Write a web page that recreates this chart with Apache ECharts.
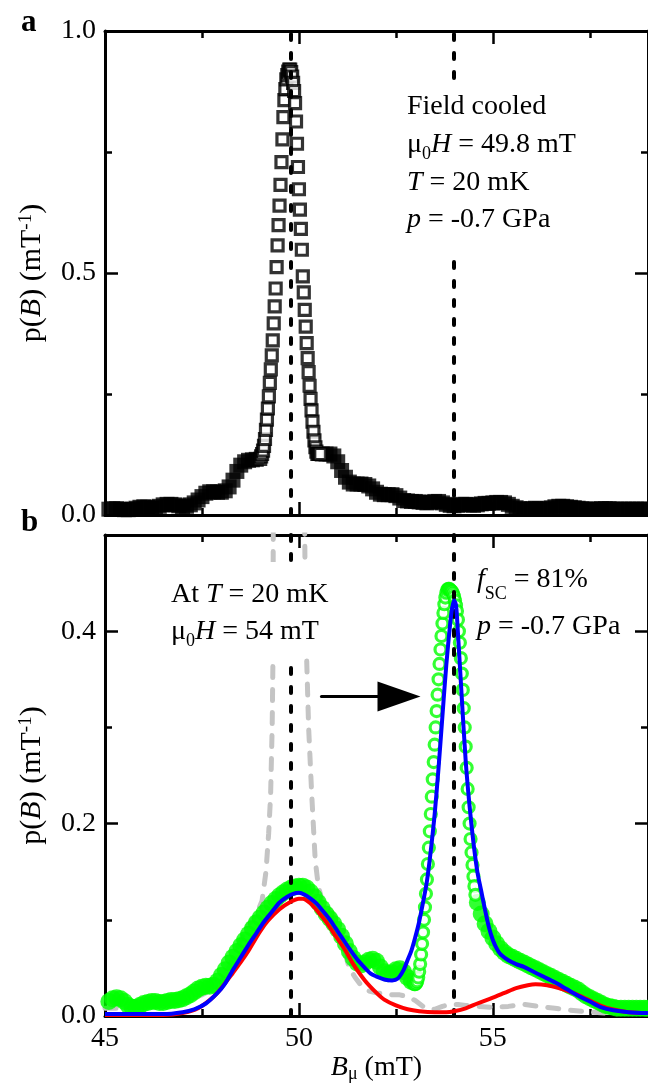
<!DOCTYPE html>
<html><head><meta charset="utf-8">
<script src="https://cdn.jsdelivr.net/npm/echarts@6/dist/echarts.min.js"></script>
<style>html,body{margin:0;padding:0;background:#fff}#c{width:648px;height:1088px}</style>
</head><body><div id="c"></div>
<script>
const SERIF = 'Liberation Serif';

// ---------- axis ranges / ticks ----------
const X_RANGE = [45, 59];
const X_MAJOR = 5, X_MINOR = 2.5;
const YA_RANGE = [0, 1.0], YA_MAJOR = 0.5, YA_MINOR = 0.25;
const YB_RANGE = [0, 0.5], YB_MAJOR = 0.2, YB_MINOR = 0.1;
const FIELD_LINES = [49.8, 54];          // black dashed verticals (mT)
const ARROW = [[50.58, 0.332], [52.58, 0.332]];

// ---------- panel a: field cooled p(B) ----------
const aWing = [
[45.1,0.012],[45.2,0.013],[45.3,0.013],[45.4,0.012],[45.5,0.011],[45.6,0.011],[45.7,0.012],[45.8,0.014],[45.9,0.016],
[46.0,0.017],[46.1,0.016],[46.2,0.014],[46.3,0.015],[46.4,0.018],[46.5,0.021],[46.6,0.022],[46.7,0.022],[46.8,0.021],[46.9,0.019],
[47.0,0.017],[47.1,0.018],[47.2,0.021],[47.3,0.025],[47.4,0.031],[47.5,0.038],[47.6,0.045],[47.7,0.048],[47.8,0.048],[47.9,0.047],
[48.0,0.047],[48.1,0.050],[48.2,0.058],[48.3,0.072],[48.4,0.090],[48.5,0.103],[48.6,0.110],[48.7,0.113],[48.8,0.114],[48.9,0.115],
[50.6,0.126],[50.7,0.126],[50.8,0.126],[50.9,0.122],[51.0,0.110],[51.1,0.092],[51.2,0.078],[51.3,0.068],[51.4,0.064],[51.5,0.064],
[51.6,0.064],[51.7,0.063],[51.8,0.060],[51.9,0.054],[52.0,0.047],[52.1,0.043],[52.2,0.042],[52.3,0.042],[52.4,0.042],[52.5,0.040],
[52.6,0.035],[52.7,0.030],[52.8,0.029],[52.9,0.028],[53.0,0.028],[53.1,0.027],[53.2,0.026],[53.3,0.025],[53.4,0.026],[53.5,0.028],
[53.6,0.028],[53.7,0.025],[53.8,0.022],[53.9,0.020],[54.0,0.019],[54.1,0.020],[54.2,0.022],[54.3,0.022],[54.4,0.021],[54.5,0.020],
[54.6,0.021],[54.7,0.023],[54.8,0.024],[54.9,0.024],[55.0,0.025],[55.1,0.026],[55.2,0.026],[55.3,0.025],[55.4,0.022],[55.5,0.018],
[55.6,0.015],[55.7,0.013],[55.8,0.012],[55.9,0.012],[56.0,0.013],[56.1,0.014],[56.2,0.013],[56.3,0.012],[56.4,0.013],[56.5,0.015],
[56.6,0.017],[56.7,0.018],[56.8,0.018],[56.9,0.017],[57.0,0.016],[57.1,0.015],[57.2,0.014],[57.3,0.013],[57.4,0.012],[57.5,0.012],
[57.6,0.012],[57.7,0.012],[57.8,0.013],[57.9,0.013],[58.0,0.013],[58.1,0.012],[58.2,0.012],[58.3,0.012],[58.4,0.012],[58.5,0.012],
[58.6,0.012],[58.7,0.012],[58.8,0.012],[58.9,0.012],[59.0,0.012]
];
const aPeak = [
[49.000,0.116],[49.025,0.121],[49.050,0.126],[49.075,0.133],[49.100,0.143],[49.125,0.157],[49.150,0.176],[49.175,0.197],
[49.200,0.220],[49.225,0.245],[49.250,0.273],[49.275,0.301],[49.300,0.330],[49.325,0.361],[49.350,0.396],[49.375,0.431],
[49.400,0.468],[49.425,0.512],[49.450,0.557],[49.475,0.599],[49.500,0.639],[49.525,0.682],[49.550,0.729],[49.575,0.776],
[49.600,0.822],[49.625,0.857],[49.650,0.880],[49.675,0.900],[49.700,0.909],[49.725,0.916],[49.750,0.920],[49.775,0.920],
[49.800,0.915],[49.825,0.906],[49.850,0.893],[49.875,0.876],[49.900,0.851],[49.925,0.813],[49.950,0.767],[49.975,0.719],
[50.000,0.673],[50.025,0.631],[50.050,0.591],[50.075,0.548],[50.100,0.493],[50.125,0.460],[50.150,0.424],[50.175,0.389],
[50.200,0.355],[50.225,0.324],[50.250,0.295],[50.275,0.267],[50.300,0.240],[50.325,0.216],[50.350,0.193],[50.375,0.172],
[50.400,0.154],[50.425,0.140],[50.450,0.131],[50.475,0.126],[50.500,0.126],[50.525,0.126],[50.550,0.126]
];

// ---------- panel b ----------
const gWing = [
[45.1,0.015],[45.2,0.018],[45.3,0.019],[45.4,0.018],[45.5,0.015],[45.6,0.011],[45.7,0.009],[45.8,0.009],[45.9,0.011],
[46.0,0.013],[46.1,0.014],[46.2,0.015],[46.3,0.015],[46.4,0.014],[46.5,0.014],[46.6,0.015],[46.7,0.016],[46.8,0.016],[46.9,0.017],
[47.0,0.018],[47.1,0.020],[47.2,0.022],[47.3,0.025],[47.4,0.028],[47.5,0.030],[47.6,0.031],[47.7,0.031],[47.8,0.032],[47.9,0.036],
[48.0,0.042],[48.1,0.048],[48.2,0.055],[48.3,0.061],[48.4,0.067],[48.5,0.073],[48.6,0.079],[48.7,0.085],[48.8,0.091],[48.9,0.097],
[49.0,0.102],[49.1,0.107],[49.2,0.112],[49.3,0.117],[49.4,0.121],[49.5,0.125],[49.6,0.128],[49.7,0.131],[49.8,0.133],[49.9,0.134],
[50.0,0.135],[50.1,0.135],[50.2,0.133],[50.3,0.129],[50.4,0.124],[50.5,0.118],[50.6,0.112],[50.7,0.106],[50.8,0.101],[50.9,0.096],
[51.0,0.090],[51.1,0.083],[51.2,0.075],[51.3,0.067],[51.4,0.060],[51.5,0.055],[51.6,0.053],[51.7,0.055],[51.8,0.058],[51.9,0.059],
[52.0,0.057],[52.1,0.051],[52.2,0.046],[52.3,0.044],[52.4,0.045],[52.5,0.048],[52.6,0.049],[52.7,0.046],[52.8,0.040],[52.9,0.036],
[54.6,0.118],[54.7,0.106],[54.8,0.096],[54.9,0.088],[55.0,0.081],[55.1,0.075],[55.2,0.070],[55.3,0.066],[55.4,0.063],[55.5,0.061],
[55.6,0.059],[55.7,0.057],[55.8,0.055],[55.9,0.053],[56.0,0.051],[56.1,0.049],[56.2,0.047],[56.3,0.045],[56.4,0.043],[56.5,0.041],
[56.6,0.039],[56.7,0.037],[56.8,0.035],[56.9,0.033],[57.0,0.031],[57.1,0.029],[57.2,0.027],[57.3,0.024],[57.4,0.021],[57.5,0.019],
[57.6,0.017],[57.7,0.015],[57.8,0.013],[57.9,0.011],[58.0,0.010],[58.1,0.009],[58.2,0.008],[58.3,0.008],[58.4,0.008],[58.5,0.008],
[58.6,0.008],[58.7,0.008],[58.8,0.008],[58.9,0.008],[59.0,0.008]
];
const gPeak = [
[52.950,0.034],[52.975,0.033],[53.000,0.033],[53.025,0.034],[53.050,0.036],[53.075,0.040],[53.100,0.046],[53.125,0.054],
[53.150,0.064],[53.175,0.075],[53.200,0.087],[53.225,0.100],[53.250,0.113],[53.275,0.127],[53.300,0.142],[53.325,0.158],
[53.350,0.175],[53.375,0.192],[53.400,0.210],[53.425,0.228],[53.450,0.246],[53.475,0.264],[53.500,0.282],[53.525,0.300],
[53.550,0.317],[53.575,0.334],[53.600,0.350],[53.625,0.366],[53.650,0.381],[53.675,0.395],[53.700,0.408],[53.725,0.419],
[53.750,0.428],[53.775,0.435],[53.800,0.440],[53.825,0.443],[53.850,0.444],[53.875,0.444],[53.900,0.443],[53.925,0.442],
[53.950,0.441],[53.975,0.439],[54.000,0.436],[54.025,0.432],[54.050,0.427],[54.075,0.421],[54.100,0.412],[54.125,0.400],
[54.150,0.388],[54.175,0.372],[54.200,0.356],[54.225,0.339],[54.250,0.320],[54.275,0.300],[54.300,0.280],[54.325,0.258],
[54.350,0.236],[54.375,0.217],[54.400,0.200],[54.425,0.184],[54.450,0.170],[54.475,0.157],[54.500,0.145],[54.525,0.135],
[54.550,0.126]
];
const blueFit = [
[45.0,0.002],[45.5,0.002],[46.0,0.002],[46.5,0.002],[47.0,0.004],[47.3,0.007],[47.6,0.013],[47.9,0.024],[48.1,0.034],[48.3,0.048],
[48.5,0.061],[48.7,0.074],[48.9,0.086],[49.1,0.098],[49.3,0.108],[49.5,0.118],[49.7,0.124],[49.85,0.127],[50.0,0.128],[50.15,0.126],
[50.3,0.122],[50.45,0.117],[50.6,0.110],[50.8,0.100],[50.95,0.091],[51.1,0.082],[51.3,0.070],[51.5,0.059],[51.7,0.050],[51.85,0.044],
[52.0,0.041],[52.2,0.038],[52.4,0.037],[52.55,0.039],[52.7,0.048],[52.8,0.058],[52.9,0.068],[53.0,0.082],[53.1,0.098],[53.2,0.118],
[53.3,0.140],[53.4,0.172],[53.5,0.210],[53.6,0.258],[53.7,0.312],[53.8,0.365],[53.9,0.408],[53.95,0.424],[54.0,0.432],[54.05,0.427],
[54.1,0.398],[54.2,0.330],[54.3,0.265],[54.4,0.218],[54.5,0.180],[54.6,0.150],[54.7,0.130],[54.8,0.110],[54.9,0.092],[55.0,0.079],
[55.1,0.070],[55.2,0.064],[55.4,0.058],[55.6,0.054],[55.8,0.051],[56.0,0.047],[56.3,0.041],[56.6,0.035],[56.9,0.028],[57.2,0.021],
[57.5,0.015],[57.8,0.009],[58.1,0.006],[58.5,0.004],[59.0,0.003]
];
const redFit = [
[45.0,0.001],[46.0,0.001],[46.5,0.001],[47.0,0.003],[47.4,0.008],[47.8,0.020],[48.0,0.029],[48.3,0.045],[48.5,0.056],[48.7,0.068],
[49.0,0.088],[49.2,0.099],[49.5,0.111],[49.8,0.119],[50.0,0.122],[50.1,0.122],[50.3,0.117],[50.5,0.108],[50.7,0.098],[50.9,0.086],
[51.2,0.068],[51.4,0.054],[51.7,0.037],[52.0,0.024],[52.2,0.017],[52.5,0.011],[52.8,0.007],[53.1,0.005],[53.5,0.004],[53.8,0.004],
[54.0,0.005],[54.3,0.008],[54.6,0.013],[55.0,0.019],[55.3,0.024],[55.6,0.029],[55.9,0.032],[56.1,0.033],[56.4,0.032],[56.7,0.029],
[57.0,0.025],[57.3,0.020],[57.6,0.014],[57.9,0.009],[58.2,0.006],[58.5,0.004],[59.0,0.003]
];
const grayRef = [
[45.0,0.008],[45.5,0.008],[46.0,0.009],[46.5,0.013],[47.0,0.016],[47.5,0.022],[47.9,0.030],[48.1,0.042],[48.3,0.060],[48.5,0.079],
[48.7,0.095],[48.9,0.105],[49.05,0.120],[49.15,0.150],[49.22,0.190],[49.27,0.230],[49.31,0.300],[49.33,0.370],[49.335,0.450],[49.34,0.550],
[49.8,0.850],[50.14,0.550],[50.16,0.450],[50.2,0.370],[50.25,0.300],[50.33,0.230],[50.42,0.162],[50.5,0.135],[50.6,0.120],[50.75,0.114],
[50.9,0.105],[51.0,0.090],[51.15,0.070],[51.3,0.050],[51.45,0.040],[51.6,0.032],[51.8,0.026],[52.0,0.024],[52.2,0.023],[52.4,0.022],
[52.6,0.022],[52.8,0.020],[53.0,0.016],[53.2,0.010],[53.35,0.007],[53.5,0.007],[53.7,0.010],[53.9,0.012],[54.1,0.012],[54.3,0.011],
[54.6,0.010],[55.0,0.009],[55.4,0.010],[55.8,0.012],[56.2,0.010],[56.6,0.008],[57.0,0.006],[57.5,0.004],[58.0,0.003],[59.0,0.003]
];

// ---------- text ----------
function rich(lh, fs) {
  fs = fs || 28;
  return {
    n:   {fontFamily: SERIF, fontSize: fs, lineHeight: lh, color: '#000'},
    i:   {fontFamily: SERIF, fontSize: fs, lineHeight: lh, color: '#000', fontStyle: 'italic'},
    sub: {fontFamily: SERIF, fontSize: Math.round(fs * 0.63), lineHeight: 10, color: '#000', verticalAlign: 'bottom'},
    sup: {fontFamily: SERIF, fontSize: Math.round(fs * 0.63), lineHeight: 17, color: '#000', verticalAlign: 'top'}
  };
}
const TXT_A = '{n|Field cooled}\n{n|μ}{sub|0}{i|H}{n| = 49.8 mT}\n{i|T}{n| = 20 mK}\n{i|p}{n| = -0.7 GPa}';
const TXT_B1 = '{n|At }{i|T}{n| = 20 mK}\n{n|μ}{sub|0}{i|H}{n| = 54 mT}';
const TXT_B2 = '{i|f}{sub|SC}{n| = 81%}\n{i|p}{n| = -0.7 GPa}';
const Y_NAME = '{n|p(}{i|B}{n|) (mT}{sup|-1}{n|)}';
const X_NAME = '{i|B}{sub|μ}{n| (mT)}';

const LINE = {color: '#000', width: 3};
const TICK = {color: '#000', width: 2.5};
const TICKFONT = {fontFamily: SERIF, fontSize: 28, color: '#000'};

function xAxesFor(g, labels) {
  const common = {type: 'value', gridIndex: g, min: X_RANGE[0], max: X_RANGE[1], splitLine: {show: false}};
  const major = (pos) => Object.assign({}, common, {
    position: pos, interval: X_MAJOR,
    axisLine: {show: true, onZero: false, lineStyle: LINE},
    axisTick: {show: true, inside: true, length: 13, lineStyle: TICK},
    axisLabel: (labels && pos === 'bottom') ? Object.assign({show: true, margin: 9, showMaxLabel: false}, TICKFONT) : {show: false}
  });
  const minor = (pos) => Object.assign({}, common, {
    position: pos, interval: X_MINOR,
    axisLine: {show: false, onZero: false},
    axisTick: {show: true, inside: true, length: 7, lineStyle: TICK},
    axisLabel: {show: false}
  });
  const b = major('bottom');
  if (labels) {
    Object.assign(b, {name: X_NAME, nameLocation: 'middle', nameGap: 36,
      nameTextStyle: {rich: rich(30, 28)}});
  }
  return [b, minor('bottom'), major('top'), minor('top')];
}
function yAxesFor(g, range, maj, mnr, showMax) {
  const common = {type: 'value', gridIndex: g, min: range[0], max: range[1], splitLine: {show: false}};
  const major = (pos) => Object.assign({}, common, {
    position: pos, interval: maj,
    axisLine: {show: true, onZero: false, lineStyle: LINE},
    axisTick: {show: true, inside: true, length: 13, lineStyle: TICK},
    axisLabel: pos === 'left' ? Object.assign({show: true, margin: 9, showMaxLabel: showMax, formatter: v => v.toFixed(1)}, TICKFONT) : {show: false}
  });
  const minor = (pos) => Object.assign({}, common, {
    position: pos, interval: mnr,
    axisLine: {show: false, onZero: false},
    axisTick: {show: true, inside: true, length: 7, lineStyle: TICK},
    axisLabel: {show: false}
  });
  const l = major('left');
  Object.assign(l, {name: Y_NAME, nameLocation: 'middle', nameGap: 58, nameRotate: 90,
    nameTextStyle: {rich: rich(30, 30)}});
  return [l, minor('left'), major('right'), minor('right')];
}

const dashed = {color: '#000', width: 4, type: [6, 13], cap: 'round'};

const option = {
  animation: false,
  backgroundColor: '#fff',
  grid: [
    {left: 105, top: 31, width: 547, height: 484},
    {left: 105, top: 535, width: 547, height: 481}
  ],
  xAxis: [...xAxesFor(0, false), ...xAxesFor(1, true)],
  yAxis: [...yAxesFor(0, YA_RANGE, YA_MAJOR, YA_MINOR, true), ...yAxesFor(1, YB_RANGE, YB_MAJOR, YB_MINOR, false)],
  series: [
    // panel a
    {type: 'line', xAxisIndex: 0, yAxisIndex: 0, data: [], z: 1, silent: true,
      markLine: {silent: true, symbol: ['none', 'none'], label: {show: false}, lineStyle: dashed,
        data: FIELD_LINES.map(v => ({xAxis: v}))}},
    {type: 'scatter', xAxisIndex: 0, yAxisIndex: 0, data: aWing, symbol: 'rect', symbolSize: 15,
      itemStyle: {color: '#000'}, z: 2, silent: true},
    {type: 'scatter', xAxisIndex: 0, yAxisIndex: 0, data: aPeak, symbol: 'rect', symbolSize: 11,
      itemStyle: {color: '#fff', borderColor: '#000', borderWidth: 3.2}, z: 3, silent: true},
    // panel b
    {type: 'line', xAxisIndex: 4, yAxisIndex: 4, data: grayRef, showSymbol: false, z: 2, silent: true,
      lineStyle: {color: '#c4c4c4', width: 5, type: [11, 12], cap: 'round'}},
    {type: 'scatter', xAxisIndex: 4, yAxisIndex: 4, data: gWing, symbol: 'circle', symbolSize: 17,
      itemStyle: {color: '#00ff00'}, z: 3, silent: true},
    {type: 'scatter', xAxisIndex: 4, yAxisIndex: 4, data: gPeak, symbol: 'circle', symbolSize: 11,
      itemStyle: {color: '#fff', borderColor: '#00ff00', borderWidth: 3.2}, z: 4, silent: true},
    {type: 'line', xAxisIndex: 4, yAxisIndex: 4, data: redFit, showSymbol: false, smooth: 0.3, z: 5, silent: true,
      lineStyle: {color: '#ff0000', width: 4}},
    {type: 'line', xAxisIndex: 4, yAxisIndex: 4, data: blueFit, showSymbol: false, smooth: 0.3, z: 6, silent: true,
      lineStyle: {color: '#0000ff', width: 4}},
    {type: 'line', xAxisIndex: 4, yAxisIndex: 4, data: [], z: 7, silent: true,
      markLine: {silent: true, symbol: ['none', 'none'], label: {show: false}, lineStyle: dashed,
        data: [
          ...FIELD_LINES.map(v => ({xAxis: v})),
          [{coord: ARROW[0], symbol: 'none', lineStyle: {color: '#000', width: 3, type: 'solid'}},
           {coord: ARROW[1], symbol: 'triangle', symbolSize: [30, 43]}]
        ]}}
  ],
  graphic: [
    {type: 'text', left: 21, top: 7, z: 100, style: {text: 'a', font: 'bold 31px "Liberation Serif"', fill: '#000'}},
    {type: 'text', left: 21, top: 507, z: 100, style: {text: 'b', font: 'bold 31px "Liberation Serif"', fill: '#000'}},
    {type: 'text', x: 403, y: 80, z: 100, style: {text: TXT_A, rich: rich(37.7), backgroundColor: '#fff', padding: [8, 4, 18, 4]}},
    {type: 'text', x: 167, y: 562, z: 100, style: {text: TXT_B1, rich: rich(37), backgroundColor: '#fff', padding: [14, 4, 8, 4]}},
    {type: 'text', x: 477, y: 556, z: 100, style: {text: TXT_B2, rich: rich(47)}}
  ]
};

const chart = echarts.init(document.getElementById('c'), null, {renderer: 'canvas', width: 648, height: 1088});
chart.setOption(option);
</script>
</body></html>
